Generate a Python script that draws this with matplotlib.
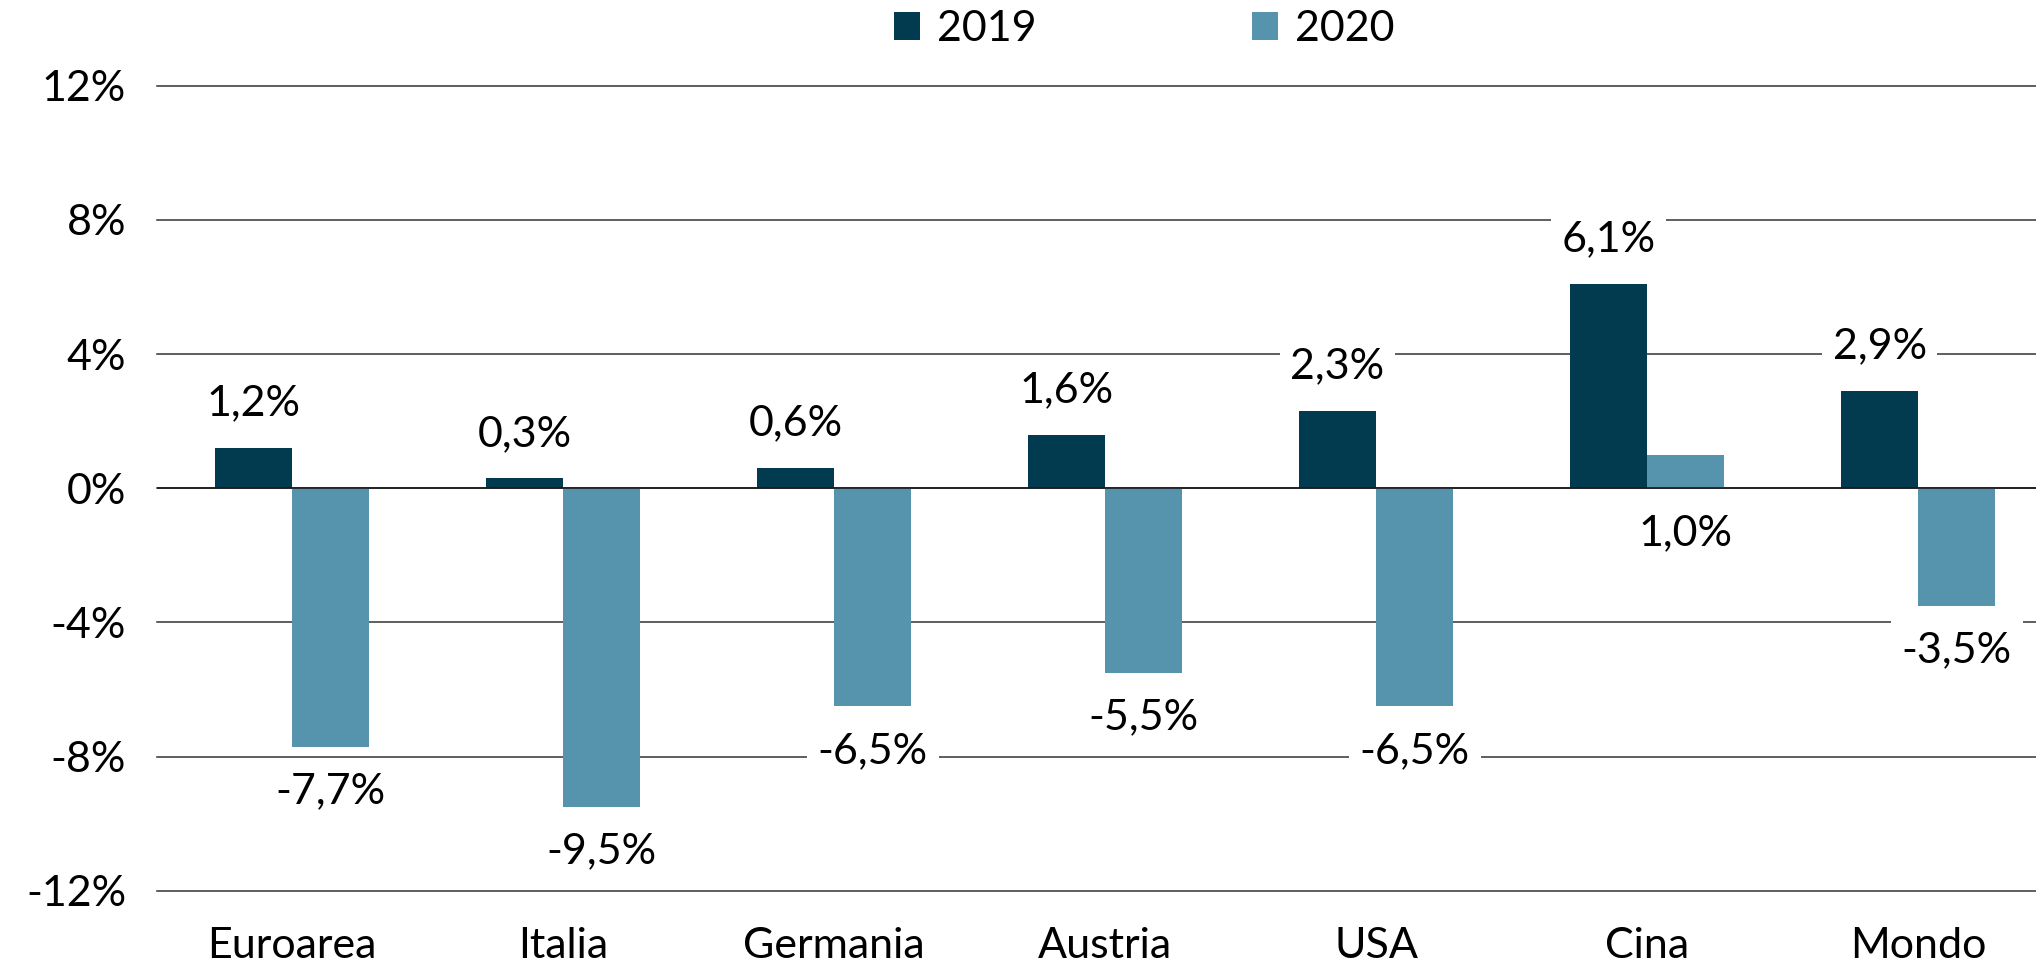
import matplotlib
matplotlib.use("Agg")
import matplotlib.pyplot as plt
import numpy as np

# data
paesi = ["Euroarea", "Italia", "Germania", "Austria", "USA", "Cina", "Mondo"]
pil_2019 = [1.2, 0.3, 0.6, 1.6, 2.3, 6.1, 2.9]
pil_2020 = [-7.7, -9.5, -6.5, -5.5, -6.5, 1.0, -3.5]
anni = ["2019", "2020"]
y_ticks = [-12, -8, -4, 0, 4, 8, 12]

col_2019 = "#023B50"
col_2020 = "#5693AD"

plt.rcParams["font.family"] = ["Lato", "DejaVu Sans"]
plt.rcParams["axes.unicode_minus"] = False

fs = 31


def fmt(v):
    return ("%.1f" % v).replace(".", ",") + "%"


fig = plt.figure(figsize=(20.36, 9.71), dpi=100)
ax = fig.add_axes([0.0769, 0.0826, 0.9318, 0.8291])

x = np.arange(len(paesi))
w = 0.285
b1 = ax.bar(x - w / 2, pil_2019, w, color=col_2019, label=anni[0], zorder=3)
b2 = ax.bar(x + w / 2, pil_2020, w, color=col_2020, label=anni[1], zorder=3)

box = dict(boxstyle="square,pad=0.25", fc="white", ec="none")
off = 32
for xi, v in zip(x - w / 2, pil_2019):
    ax.annotate(fmt(v), (xi, max(v, 0)), xytext=(0, off), textcoords="offset points",
                ha="center", va="center", fontsize=fs, bbox=box, zorder=4)
for xi, v in zip(x + w / 2, pil_2020):
    ax.annotate(fmt(v), (xi, min(v, 0)), xytext=(0, -off), textcoords="offset points",
                ha="center", va="center", fontsize=fs, bbox=box, zorder=4)

ax.set_xlim(-0.5, len(paesi) - 0.5)
ax.set_ylim(-12, 12)
ax.set_yticks(y_ticks)
ax.set_yticklabels(["%d%%" % t for t in y_ticks])
ax.set_xticks(x)
ax.set_xticklabels(paesi)
ax.tick_params(axis="y", length=0, pad=22, labelsize=fs)
ax.tick_params(axis="x", length=0, pad=26, labelsize=fs)
ax.grid(axis="y", color="#333333", linewidth=1.1, zorder=1)
for gl in ax.get_ygridlines():
    gl.set_clip_on(False)
ax.axhline(0, color="#1a1a1a", linewidth=1.2, zorder=3.5)
for s in ax.spines.values():
    s.set_visible(False)

fig.legend(handles=[b1, b2], labels=anni, loc="center", bbox_to_anchor=(0.562, 0.97),
           ncol=2, frameon=False, fontsize=fs, handlelength=0.6, handleheight=0.6,
           handletextpad=0.4, columnspacing=5.0)

fig.savefig("out.png", dpi=100)
